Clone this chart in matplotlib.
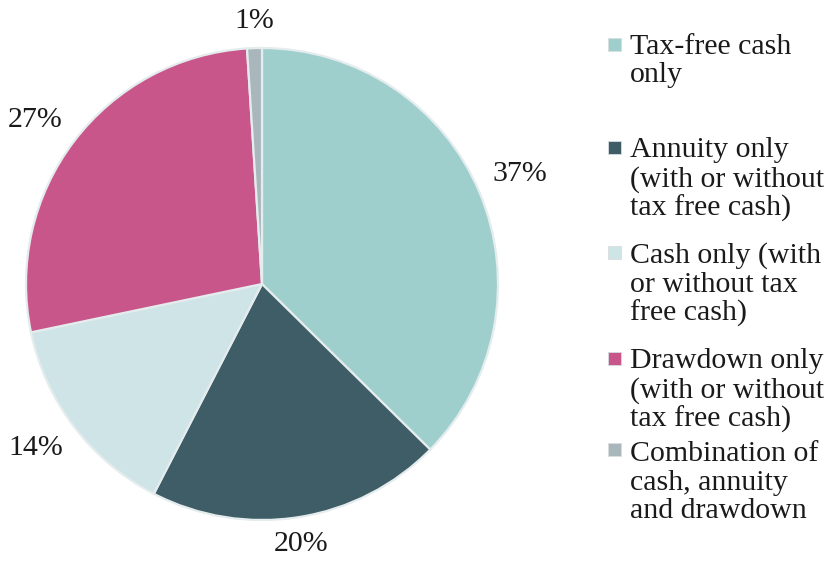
import numpy as np
import matplotlib
import matplotlib.pyplot as plt
from matplotlib.patches import Rectangle

# retirement choices, share of respondents (%)
categories = [
    "Tax-free cash\nonly",
    "Annuity only\n(with or without\ntax free cash)",
    "Cash only (with\nor without tax\nfree cash)",
    "Drawdown only\n(with or without\ntax free cash)",
    "Combination of\ncash, annuity\nand drawdown",
]
shares = [37, 20, 14, 27, 1]
colors = ["#9ecfcc", "#3f5d66", "#cfe4e6", "#c8568a", "#a9b7bd"]

# first-line baseline of each legend entry, in pixels from the top
legend_rows = [52, 155, 260, 366, 457]
line_px = 30.5

matplotlib.rcParams['font.family'] = ['Liberation Serif', 'DejaVu Serif']
matplotlib.rcParams['font.size'] = 21.5

W, H = 834, 561
fig = plt.figure(figsize=(W / 100, H / 100), dpi=100)

cx, cy, r = 262, 284, 236
ax = fig.add_axes([(cx - r) / W, (H - cy - r) / H, 2 * r / W, 2 * r / H])
wedges, texts, autotexts = ax.pie(
    shares, colors=colors, startangle=90, counterclock=False, radius=1,
    autopct='%d%%',
    wedgeprops=dict(edgecolor='#e4ecee', linewidth=1.6),
    textprops=dict(color='#1a1a1a'),
)
ax.set_xlim(-1, 1)
ax.set_ylim(-1, 1)
ax.set_aspect('auto')
ax.axis('off')

# percentage labels just outside the rim, anchored on the side facing the pie
for w, t in zip(wedges, autotexts):
    ang = np.deg2rad((w.theta1 + w.theta2) / 2)
    c, s = np.cos(ang), np.sin(ang)
    t.set_position((1.06 * c, 1.06 * s))
    t.set_ha('left' if c > 0.3 else 'right' if c < -0.3 else 'center')
    t.set_va('bottom' if s > 0.3 else 'top' if s < -0.3 else 'center')

# hand-built legend so each entry sits where it belongs
for label, color, base in zip(categories, colors, legend_rows):
    n_lines = label.count("\n") + 1
    fig.add_artist(Rectangle((608 / W, (H - base + 1) / H), 13 / W, 13 / H,
                             transform=fig.transFigure, facecolor=color,
                             edgecolor='#d8dde0', linewidth=0.6))
    last_base = base + (n_lines - 1) * line_px
    fig.text(630 / W, (H - last_base) / H, label, ha='left', va='baseline',
             color='#1a1a1a', linespacing=1.12)

fig.savefig('out.png', dpi=100)
